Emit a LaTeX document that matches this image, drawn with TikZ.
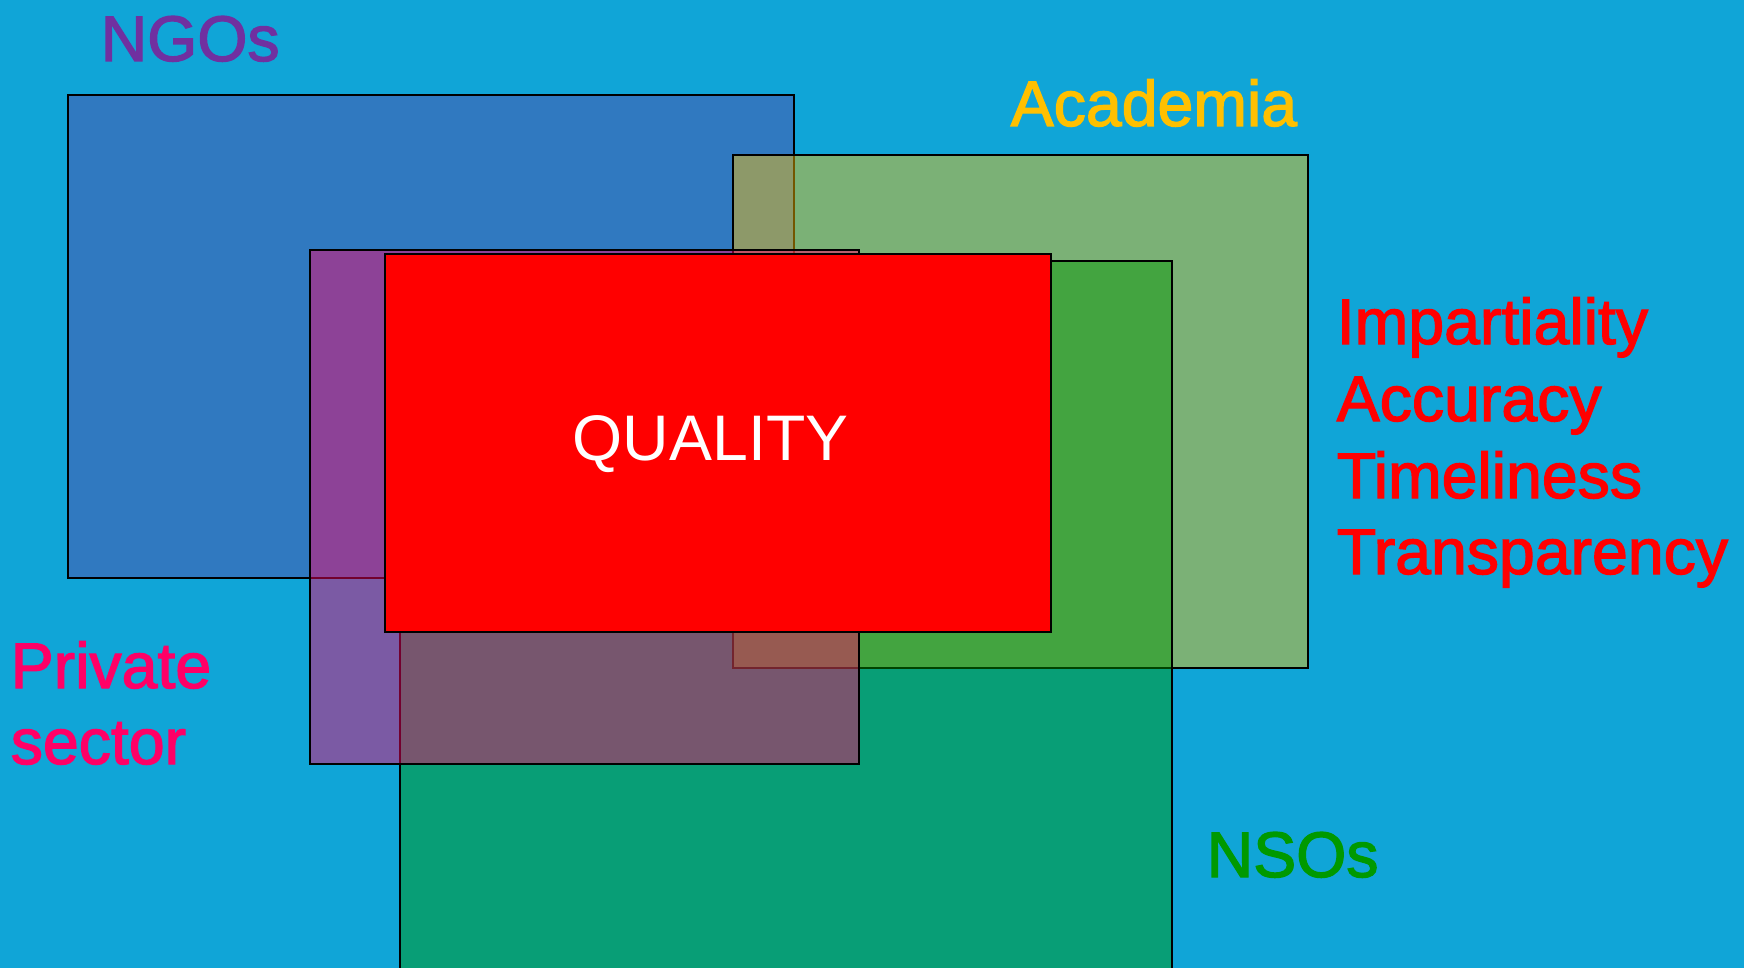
\documentclass[tikz,border=0pt]{standalone}
\usepackage{fontspec}
\setmainfont{Liberation Sans}
\newfontfamily\labelfont[FakeBold=2]{Liberation Sans}
\definecolor{bgblue}{RGB}{16,165,215}
\definecolor{ngofill}{RGB}{87,69,164}
\definecolor{ngotext}{RGB}{112,48,160}
\definecolor{acadgold}{RGB}{255,192,0}
\definecolor{nsogreen}{RGB}{0,150,0}
\definecolor{nsotext}{RGB}{0,153,0}
\definecolor{privpink}{RGB}{255,0,102}

\begin{document}
\begin{tikzpicture}[x=0.5pt,y=-0.5pt,line width=0.75pt]
        \tikzstyle{every node}=[inner sep=0pt, anchor=base west, font=\labelfont\fontsize{32.2}{38.5}\selectfont]
        \tikzstyle{region}=[draw=black, fill opacity=0.45]

        \useasboundingbox (0,0) rectangle (1744,968);
        \clip (0,0) rectangle (1744,968);
        \fill[bgblue] (0,0) rectangle (1744,968);

        % overlapping sectors, back to front
        \draw[region, fill=ngofill]  (68,95)   rectangle (794,578);
        \draw[region, fill=acadgold] (733,155) rectangle (1308,668);
        \draw[region, fill=nsogreen] (400,261) rectangle (1172,990);
        \draw[region, fill=privpink] (310,250) rectangle (859,764);
        \draw[fill=red]              (385,254) rectangle (1051,632);

        \node[text=ngotext]  (ngo)      at (100,61)   {NGOs};
        \node[text=acadgold] (acad)     at (1010,126) {Academia};
        \node[text=white, font=\rmfamily\fontsize{32.2}{38.5}\selectfont]
                             (quality)  at (572,460)  {QUALITY};
        \node[text=nsotext]  (nso)      at (1206,877) {NSOs};
        \node[text=privpink] (private)  at (10,688)   {Private};
        \node[text=privpink] (sector)   at (10,764)   {sector};

        \node[text=red] (impart) at (1336,344) {Impartiality};
        \node[text=red] (accur)  at (1336,421) {Accuracy};
        \node[text=red] (timely) at (1336,498) {Timeliness};
        \node[text=red] (transp) at (1336,574) {Transparency};
      \end{tikzpicture}
\end{document}
